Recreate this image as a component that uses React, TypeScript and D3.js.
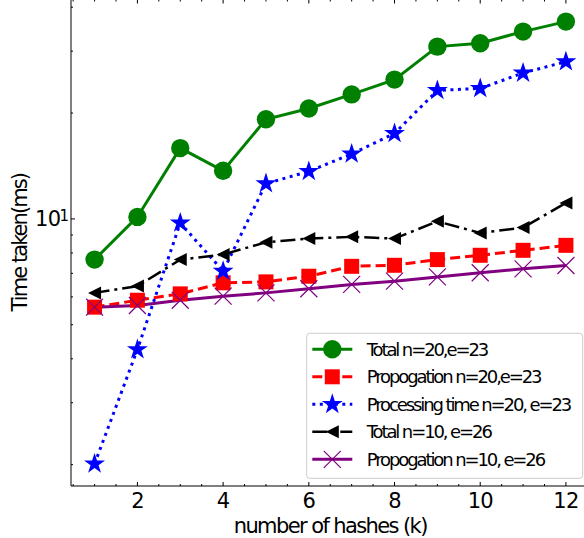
import React from "react";
import * as d3 from "d3";

// Number of hash functions k
const hashes = [1, 2, 3, 4, 5, 6, 7, 8, 9, 10, 11, 12];

// Time taken (ms) for each configuration
const totalN20 = [7.66, 10.13, 15.9, 13.7, 19.2, 20.6, 22.6, 24.9, 30.9, 31.6, 34.1, 36.4];
const propN20 = [5.61, 5.87, 6.12, 6.58, 6.62, 6.87, 7.33, 7.38, 7.66, 7.88, 8.14, 8.41];
const procN20 = [2.01, 4.25, 9.74, 7.1, 12.6, 13.65, 15.3, 17.5, 23.2, 23.5, 26.0, 28.0];
const totalN10 = [6.16, 6.44, 7.66, 7.92, 8.58, 8.79, 8.89, 8.79, 9.84, 9.12, 9.45, 11.1];
const propN10 = [5.61, 5.67, 5.87, 6.03, 6.16, 6.33, 6.51, 6.65, 6.84, 7.03, 7.21, 7.37];

const seriesLabels = [
  "Total n=20,e=23",
  "Propogation n=20,e=23",
  "Processing time n=20, e=23",
  "Total n=10, e=26",
  "Propogation n=10, e=26",
];

const xTicks = [2, 4, 6, 8, 10, 12];
const xLabel = "number of hashes (k)";
const yLabel = "Time taken(ms)";

const W = 584;
const H = 538;
const FONT = "'DejaVu Sans', sans-serif";

type Marker = "circle" | "square" | "star" | "tri-left" | "x";

interface Series {
  label: string;
  values: number[];
  color: string;
  dash: string | null;
  width: number;
  marker: Marker;
}

const series: Series[] = [
  { label: seriesLabels[0], values: totalN20, color: "#008000", dash: null, width: 3, marker: "circle" },
  { label: seriesLabels[1], values: propN20, color: "#ff0000", dash: "10,5", width: 3, marker: "square" },
  { label: seriesLabels[2], values: procN20, color: "#0000ff", dash: "3,4.5", width: 3, marker: "star" },
  { label: seriesLabels[3], values: totalN10, color: "#000000", dash: "15,5,3,5", width: 2.5, marker: "tri-left" },
  { label: seriesLabels[4], values: propN10, color: "#800080", dash: null, width: 3, marker: "x" },
];

function MarkerShape({ kind, color, x, y }: { kind: Marker; color: string; x: number; y: number }) {
  const t = `translate(${x},${y})`;
  if (kind === "circle") {
    return <path transform={t} d={d3.symbol(d3.symbolCircle, Math.PI * 9.2 * 9.2)()!} fill={color} />;
  }
  if (kind === "square") {
    return <path transform={t} d={d3.symbol(d3.symbolSquare, 15 * 15)()!} fill={color} />;
  }
  if (kind === "star") {
    const R = 11;
    return <path transform={t} d={d3.symbol(d3.symbolStar, (R * R) / 0.8908130915)()!} fill={color} />;
  }
  if (kind === "tri-left") {
    const s = 6.5;
    return <path transform={t} d={`M${-s},0L${s},${-s}L${s},${s}Z`} fill={color} />;
  }
  const s = 8.5;
  return (
    <path
      transform={t}
      d={`M${-s},${-s}L${s},${s}M${-s},${s}L${s},${-s}`}
      stroke={color}
      strokeWidth={1.2}
      fill="none"
    />
  );
}

export default function App() {
  const left = 71;
  const bottom = 486;
  const top = -0.5;

  const x = d3.scaleLinear().domain([0.45, 12.55]).range([left, left + 12.1 * 42.85]);

  // log axis limits padded by 5% of the data span in log space
  const all = series.flatMap((s) => s.values);
  const lo = Math.log10(d3.min(all)!);
  const hi = Math.log10(d3.max(all)!);
  const pad = (hi - lo) * 0.05;
  const y = d3
    .scaleLog()
    .domain([Math.pow(10, lo - pad), Math.pow(10, hi + pad)])
    .range([bottom, top]);

  const [yMin, yMax] = y.domain();
  const yMinor: number[] = [];
  for (let dec = 1; dec <= 100; dec *= 10) {
    for (let m = 1; m < 10; m++) {
      const v = m * dec;
      if (v >= yMin && v <= yMax && v !== 10) yMinor.push(v);
    }
  }
  const xMinor = d3.range(0.5, 13, 0.5).filter((v) => v >= 0.45 && v <= 12.55 && v % 2 !== 0);

  const line = d3
    .line<number>()
    .x((_, i) => x(hashes[i]))
    .y((d) => y(d));

  const tickColor = "#000";
  const xRight = x(12.55);

  // legend geometry
  const lgX = 306.7;
  const lgY = 333.3;
  const lgW = 276;
  const lgH = 145;
  const rowY = (i: number) => 349.3 + i * 27.5;

  return (
    <svg
      width={W}
      height={H}
      style={{ position: "absolute", left: 0, top: 0, background: "#fff" }}
      fontFamily={FONT}
    >
      <rect x={0} y={0} width={W} height={H} fill="#fff" />

      {/* series lines */}
      {series.map((s) => (
        <path
          key={s.label + "-line"}
          d={line(s.values)!}
          fill="none"
          stroke={s.color}
          strokeWidth={s.width}
          strokeDasharray={s.dash ?? undefined}
        />
      ))}
      {/* series markers */}
      {series.map((s) => (
        <g key={s.label + "-marks"}>
          {s.values.map((v, i) => (
            <MarkerShape key={i} kind={s.marker} color={s.color} x={x(hashes[i])} y={y(v)} />
          ))}
        </g>
      ))}

      {/* spines */}
      <line x1={left} x2={left} y1={top} y2={bottom} stroke="#000" strokeWidth={1} />
      <line x1={left} x2={xRight} y1={bottom} y2={bottom} stroke="#000" strokeWidth={1} />
      <line x1={left} x2={xRight} y1={top} y2={top} stroke="#000" strokeWidth={1} />

      {/* x ticks (inward, bottom and top) */}
      {xTicks.map((t) => (
        <g key={"xt" + t}>
          <line x1={x(t)} x2={x(t)} y1={bottom} y2={bottom - 4} stroke={tickColor} />
          <line x1={x(t)} x2={x(t)} y1={top} y2={top + 4} stroke={tickColor} />
          <text x={x(t)} y={507.5} fontSize={21} letterSpacing={-0.8} textAnchor="middle" fill="#000">
            {t}
          </text>
        </g>
      ))}
      {xMinor.map((t) => (
        <g key={"xm" + t}>
          <line x1={x(t)} x2={x(t)} y1={bottom} y2={bottom - 2} stroke={tickColor} />
          <line x1={x(t)} x2={x(t)} y1={top} y2={top + 2} stroke={tickColor} />
        </g>
      ))}

      {/* y ticks (inward) */}
      <line x1={left} x2={left + 4} y1={y(10)} y2={y(10)} stroke={tickColor} />
      {yMinor.map((v) => (
        <line key={"ym" + v} x1={left} x2={left + 2} y1={y(v)} y2={y(v)} stroke={tickColor} />
      ))}
      <text x={60.5} y={y(10) + 7.6} fontSize={21} letterSpacing={-0.6} textAnchor="end" fill="#000">
        10
      </text>
      <text x={59.5} y={y(10) + 2.6} fontSize={15} fill="#000">
        1
      </text>

      {/* axis labels */}
      <text
        x={(left + xRight) / 2}
        y={533}
        fontSize={21}
        letterSpacing={-1.6}
        textAnchor="middle"
        fill="#000"
      >
        {xLabel}
      </text>
      <text
        transform={`translate(27,${(top + bottom) / 2}) rotate(-90)`}
        fontSize={21}
        letterSpacing={-1.95}
        textAnchor="middle"
        fill="#000"
      >
        {yLabel}
      </text>

      {/* legend */}
      <rect
        x={lgX}
        y={lgY}
        width={lgW}
        height={lgH}
        rx={3}
        fill="#fff"
        fillOpacity={0.8}
        stroke="#cccccc"
        strokeWidth={1}
      />
      {series.map((s, i) => (
        <g key={s.label + "-legend"}>
          <line
            x1={312.3}
            x2={352.3}
            y1={rowY(i)}
            y2={rowY(i)}
            stroke={s.color}
            strokeWidth={s.width}
            strokeDasharray={s.dash ?? undefined}
          />
          <MarkerShape kind={s.marker} color={s.color} x={332.3} y={rowY(i)} />
          <text x={366.7} y={rowY(i) + 6.5} fontSize={18} letterSpacing={-2.1} fill="#000">
            {s.label}
          </text>
        </g>
      ))}
    </svg>
  );
}
